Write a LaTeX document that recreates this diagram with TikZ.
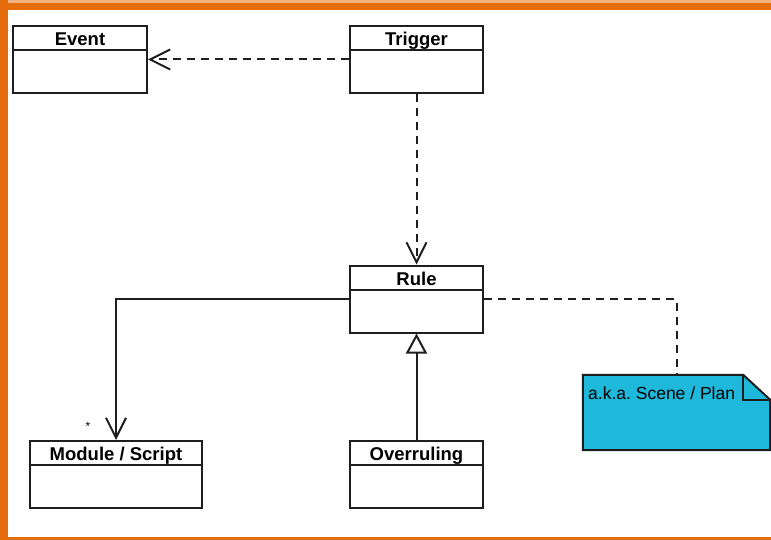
\documentclass[tikz,border=0pt]{standalone}
\usepackage{fontspec}
\setmainfont{Liberation Sans}
\usetikzlibrary{arrows.meta}
\definecolor{frameorange}{RGB}{228,108,10}
\definecolor{frametint}{RGB}{242,178,128}
\definecolor{notecyan}{RGB}{29,184,218}
\definecolor{ink}{RGB}{30,30,30}
\frenchspacing
\tikzset{
  classbox/.style={draw=ink, line width=2pt, fill=white, minimum height=67pt, inner sep=0pt},
  classtitle/.style={font=\bfseries\fontsize{18.5}{22}\selectfont, inner sep=0pt, anchor=base},
  notebox/.style={minimum width=187pt, minimum height=75pt, inner sep=0pt},
  dep/.style={draw=ink, line width=2pt, dash pattern=on 8pt off 6pt,
    -{Straight Barb[length=20pt,width=20pt,line width=2pt]}},
  assoc/.style={draw=ink, line width=2pt,
    -{Straight Barb[length=20pt,width=20pt,line width=2pt]}},
  inherit/.style={draw=ink, line width=2pt,
    -{Triangle[open,length=20pt,width=21pt,line width=2pt,fill=white]}},
  notelink/.style={draw=ink, line width=2pt, dash pattern=on 8pt off 6pt},
}
% class box: name, centre x, centre y, width, title
\newcommand\classnode[5]{%
  \node[classbox, minimum width=#4pt] (#1) at (#2,#3) {};
  \draw[ink, line width=2pt] ([yshift=-25pt]#1.north west) -- ([yshift=-25pt]#1.north east);
  \node[classtitle] (#1-title) at ([yshift=-20.5pt]#1.north) {#5};
}
\begin{document}
\begin{tikzpicture}[x=1pt, y=-1pt]
  \useasboundingbox (0,0) rectangle (771,540);
  \fill[white] (0,0) rectangle (771,540);
  % frame
  \fill[frametint] (0,0) rectangle (771,3);
  \fill[frameorange] (0,3) rectangle (771,10);
  \fill[frameorange] (0,0) rectangle (8,540);
  \fill[frameorange] (0,537) rectangle (771,540);

  % classes
  \classnode{event}{80}{59.5}{134}{Event}
  \classnode{trigger}{416.5}{59.5}{133}{Trigger}
  \classnode{rule}{416.5}{299}{133}{Rule}
  \classnode{module}{116}{474.5}{172}{Module / Script}
  \classnode{overruling}{416.5}{474.5}{133}{Overruling}

  % note with folded corner
  \node[notebox] (note) at (676.5,412.5) {};
  \filldraw[fill=notecyan, draw=ink, line width=2pt, line join=miter]
    (note.north west) -- ([xshift=-27pt]note.north east)
    -- ([yshift=-25pt]note.north east) -- (note.south east)
    -- (note.south west) -- cycle;
  \draw[ink, line width=2pt] ([xshift=-27pt]note.north east) |- ([yshift=-25pt]note.north east);
  \node[anchor=base west, inner sep=0pt, font=\fontsize{17.5}{21}\selectfont] (notetext) at (588,399.5) {a.k.a. Scene / Plan};

  % connectors
  \draw[dep] (trigger.west) -- (event.east);
  \draw[dep] (trigger.south) -- (rule.north);
  \draw[assoc] (rule.west) -| (module.north);
  \node[font=\fontsize{12}{14}\selectfont, inner sep=0pt] (mult) at (88,426) {*};
  \draw[inherit] (overruling.north) -- (rule.south);
  \draw[notelink] (rule.east) -| (note.north);
\end{tikzpicture}
\end{document}
